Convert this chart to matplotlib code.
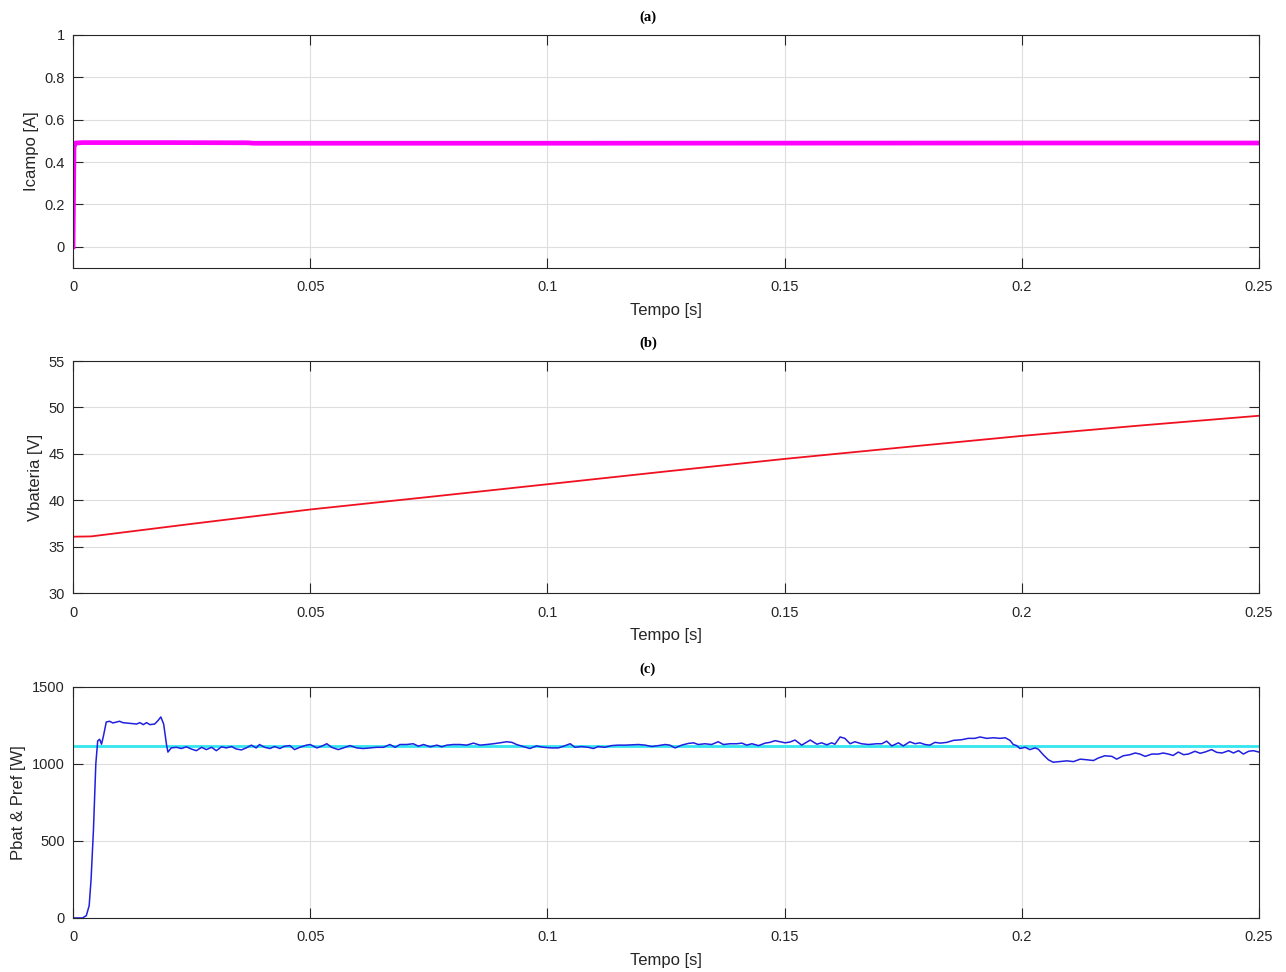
import matplotlib.pyplot as plt
import numpy as np

# (a) field current
t_campo = [0, 0.0002, 0.0005, 0.002, 0.02, 0.037, 0.038, 0.1, 0.2, 0.25]
i_campo = [0, 0.47, 0.49, 0.492, 0.492, 0.491, 0.489, 0.489, 0.490, 0.490]

# (b) battery voltage
t_bat = [0, 0.0038, 0.025, 0.05, 0.075, 0.1, 0.125, 0.15, 0.175, 0.2, 0.225, 0.25]
v_bat = [36.07, 36.1, 37.45, 39.0, 40.35, 41.72, 43.1, 44.45, 45.7, 46.93, 48.05, 49.1]

# (c) battery power and reference
t_pot = [0, 0.002, 0.0028, 0.0034, 0.0038, 0.0043, 0.0048, 0.0052, 0.0056, 0.0060,
         0.0064, 0.0070, 0.0077, 0.0084, 0.0098, 0.0105, 0.0119, 0.0134, 0.0141, 0.0148,
         0.0155, 0.0162, 0.0172, 0.0179, 0.0185, 0.0191, 0.0197, 0.0200, 0.0207, 0.0218,
         0.0228, 0.0239, 0.0249, 0.0260, 0.0271, 0.0281, 0.0292, 0.0302, 0.0313, 0.0323,
         0.0334, 0.0344, 0.0355, 0.0365, 0.0376, 0.0386, 0.0393, 0.0404, 0.0415, 0.0425,
         0.0436, 0.0446, 0.0457, 0.0467, 0.0478, 0.0492, 0.0500, 0.0514, 0.0524, 0.0535,
         0.0545, 0.0559, 0.0570, 0.0584, 0.0598, 0.0612, 0.0626, 0.0640, 0.0654, 0.0668,
         0.0679, 0.0689, 0.0703, 0.0717, 0.0728, 0.0739, 0.0753, 0.0767, 0.0777, 0.0788,
         0.0802, 0.0816, 0.0830, 0.0844, 0.0858, 0.0872, 0.0886, 0.0900, 0.0914, 0.0925,
         0.0935, 0.0949, 0.0963, 0.0977, 0.0992, 0.1009, 0.1023, 0.1034, 0.1048, 0.1058,
         0.1072, 0.1086, 0.1097, 0.1107, 0.1121, 0.1135, 0.1149, 0.1164, 0.1178, 0.1192,
         0.1206, 0.1220, 0.1234, 0.1248, 0.1258, 0.1269, 0.1283, 0.1297, 0.1308, 0.1318,
         0.1332, 0.1346, 0.1360, 0.1371, 0.1385, 0.1399, 0.1410, 0.1420, 0.1431, 0.1445,
         0.1459, 0.1469, 0.1480, 0.1490, 0.1501, 0.1511, 0.1522, 0.1536, 0.1554, 0.1568,
         0.1578, 0.1589, 0.1599, 0.1606, 0.1617, 0.1627, 0.1638, 0.1648, 0.1662, 0.1677,
         0.1694, 0.1705, 0.1715, 0.1726, 0.1740, 0.1750, 0.1764, 0.1775, 0.1785, 0.1796,
         0.1806, 0.1817, 0.1828, 0.1842, 0.1856, 0.1873, 0.1887, 0.1901, 0.1912, 0.1926,
         0.1940, 0.1954, 0.1965, 0.1975, 0.1982, 0.1989, 0.1996, 0.2007, 0.2017, 0.2028,
         0.2035, 0.2045, 0.2056, 0.2066, 0.2080, 0.2095, 0.2109, 0.2123, 0.2137, 0.2151,
         0.2161, 0.2175, 0.2190, 0.2200, 0.2214, 0.2228, 0.2239, 0.2249, 0.2260, 0.2274,
         0.2288, 0.2298, 0.2309, 0.2319, 0.2330, 0.2341, 0.2351, 0.2365, 0.2376, 0.2386,
         0.2400, 0.2411, 0.2422, 0.2436, 0.2446, 0.2457, 0.2467, 0.2478, 0.2488, 0.2500]
p_bat = [0, 0, 15, 80, 250, 571, 1000, 1150, 1160, 1128,
         1180, 1272, 1277, 1266, 1277, 1268, 1264, 1259, 1268, 1255,
         1268, 1255, 1259, 1281, 1305, 1259, 1126, 1077, 1104, 1108,
         1100, 1111, 1097, 1086, 1108, 1093, 1108, 1086, 1111, 1104,
         1113, 1097, 1091, 1104, 1122, 1104, 1126, 1108, 1100, 1113,
         1100, 1115, 1119, 1093, 1108, 1122, 1126, 1104, 1115, 1131,
         1108, 1093, 1104, 1119, 1104, 1100, 1104, 1108, 1108, 1126,
         1108, 1126, 1126, 1131, 1115, 1126, 1111, 1122, 1111, 1122,
         1126, 1126, 1122, 1135, 1122, 1126, 1131, 1137, 1144, 1140,
         1126, 1113, 1100, 1117, 1108, 1104, 1104, 1115, 1131, 1108,
         1113, 1108, 1100, 1113, 1108, 1119, 1122, 1122, 1124, 1126,
         1122, 1113, 1119, 1126, 1122, 1104, 1122, 1133, 1137, 1126,
         1131, 1126, 1144, 1126, 1131, 1131, 1135, 1122, 1131, 1119,
         1135, 1140, 1151, 1144, 1137, 1142, 1155, 1122, 1155, 1128,
         1137, 1124, 1137, 1128, 1175, 1166, 1131, 1144, 1131, 1126,
         1131, 1131, 1148, 1117, 1137, 1117, 1144, 1131, 1137, 1126,
         1122, 1140, 1135, 1140, 1153, 1157, 1166, 1166, 1175, 1166,
         1170, 1166, 1170, 1153, 1126, 1119, 1100, 1108, 1093, 1104,
         1095, 1060, 1027, 1011, 1015, 1020, 1015, 1031, 1027, 1022,
         1038, 1053, 1049, 1031, 1053, 1060, 1071, 1064, 1049, 1064,
         1064, 1071, 1064, 1055, 1077, 1060, 1064, 1082, 1069, 1077,
         1093, 1075, 1071, 1086, 1071, 1086, 1064, 1082, 1086, 1077]
t_ref = [0, 0.25]
p_ref = [1115, 1115]

xticks = [0, 0.05, 0.1, 0.15, 0.2, 0.25]
xticklabels = ['0', '0.05', '0.1', '0.15', '0.2', '0.25']

plt.rcParams['font.family'] = ['Liberation Sans', 'DejaVu Sans']

fig = plt.figure(figsize=(12.86, 9.72), dpi=100)
W = 0.9222
L = 0.0568
ax_a = fig.add_axes([L, 0.7243, W, 0.2397])
ax_b = fig.add_axes([L, 0.3899, W, 0.2387])
ax_c = fig.add_axes([L, 0.0556, W, 0.2377])

def estilo(ax, titulo, ylabel, yticks, ylim, ylabels=None):
    ax.set_xlim(0, 0.25)
    ax.set_ylim(*ylim)
    ax.set_xticks(xticks)
    ax.set_xticklabels(xticklabels)
    ax.set_yticks(yticks)
    if ylabels is not None:
        ax.set_yticklabels(ylabels)
    ax.grid(True, color='#dedede', linewidth=0.8)
    ax.set_axisbelow(True)
    for s in ax.spines.values():
        s.set_color('#262626')
        s.set_linewidth(0.8)
    ax.tick_params(direction='in', length=7, width=0.8, top=True, right=True,
                   colors='#262626', labelsize=10.5)
    ax.tick_params(axis='x', pad=9)
    ax.tick_params(axis='y', pad=6)
    ax.set_xlabel('Tempo [s]', fontsize=12, color='#262626', labelpad=6)
    ax.set_ylabel(ylabel, fontsize=12, color='#262626', labelpad=4)
    # titles sit at the middle of the figure, not of the axes
    ax.set_title(titulo, fontsize=10.5, fontweight='bold',
                 family='Liberation Serif', pad=10, x=0.4848)

# (a)
ax_a.plot(t_campo, i_campo, color='#ff00ff', linewidth=3.4)
estilo(ax_a, '(a)', 'Icampo [A]', [0, 0.2, 0.4, 0.6, 0.8, 1], (-0.1, 1),
       ['0', '0.2', '0.4', '0.6', '0.8', '1'])

# (b)
ax_b.plot(t_bat, v_bat, color='#f01020', linewidth=1.3)
estilo(ax_b, '(b)', 'Vbateria [V]', [30, 35, 40, 45, 50, 55], (30, 55))

# (c)
ax_c.plot(t_ref, p_ref, color='#33e6f0', linewidth=2.0)
ax_c.plot(t_pot, p_bat, color='#2020e0', linewidth=1.1)
estilo(ax_c, '(c)', 'Pbat & Pref [W]', [0, 500, 1000, 1500], (0, 1500))

fig.savefig('out.png', dpi=100)
